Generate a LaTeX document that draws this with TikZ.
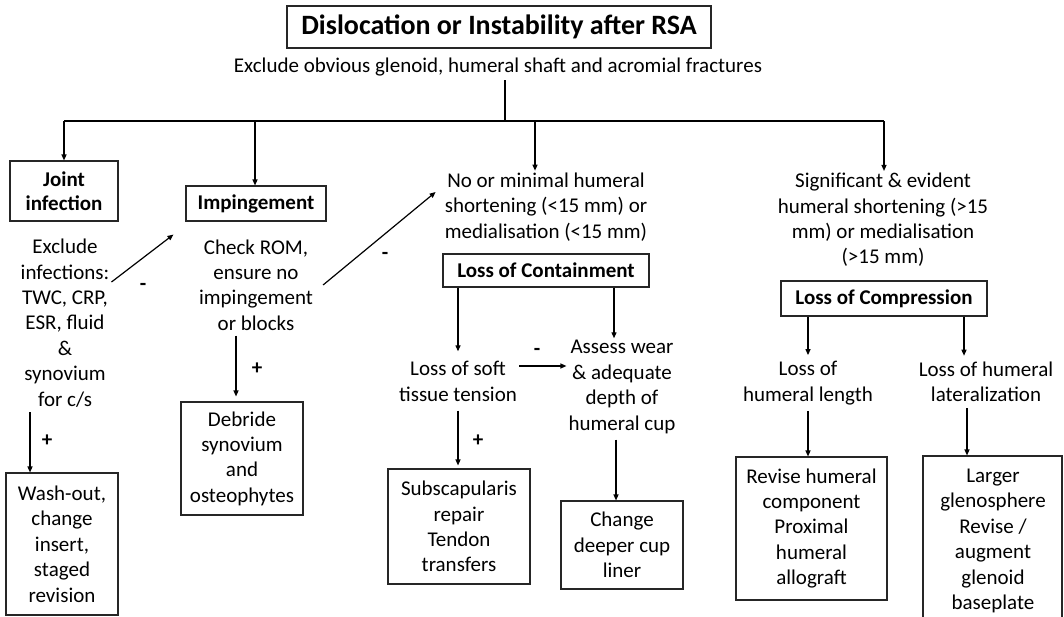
\documentclass[tikz,border=0pt]{standalone}
\usepackage{fontspec}
\setmainfont{Carlito}
\usetikzlibrary{arrows.meta}
\begin{document}
\begin{tikzpicture}[x=1pt,y=-1pt,
  every node/.style={inner sep=2pt},
  body/.style={align=center,font=\fontsize{21}{25.4}\selectfont},
  boxed/.style={draw=black!85,line width=1.1pt,align=center},
  lbl/.style={boxed,font=\fontsize{21}{24}\selectfont\bfseries},
  sign/.style={font=\fontsize{21}{21}\selectfont\bfseries},
  arr/.style={line width=1.2pt,-{Triangle[length=6pt,width=5pt]}},
  trunk/.style={line width=2.6pt},
]
\useasboundingbox (0,0) rectangle (1064,616);

% heading
\node[boxed,line width=1.3pt,font=\fontsize{28}{30}\selectfont\bfseries,
      minimum width=424pt,minimum height=42pt] (title) at (499,27)
  {Dislocation or Instability after RSA};
\node[font=\fontsize{21}{24}\selectfont] (sub) at (498,67)
  {Exclude obvious glenoid, humeral shaft and acromial fractures};

% distribution bar
\coordinate (hub) at (505,121);
\coordinate (b1) at (64,121);
\coordinate (b2) at (255,121);
\coordinate (b3) at (535,121);
\coordinate (b4) at (884,121);
\draw[trunk,shorten <=2pt] (sub.south -| hub) -- (hub);
\draw[trunk] (b1) -- (b4);

% column 1: joint infection
\node[lbl,minimum width=108pt,minimum height=60pt] (ji) at (64,191) {Joint\\infection};
\node[body] (exinf) at (65,323) {Exclude\\infections:\\TWC, CRP,\\ESR, fluid\\\&\\synovium\\for c/s};
\node[boxed,body,minimum width=112pt,minimum height=142pt] (wash) at (62,544)
  {Wash-out,\\change\\insert,\\staged\\revision};

% column 2: impingement
\node[lbl,minimum width=140pt,minimum height=35pt] (imp) at (256,203.5) {Impingement};
\node[body] (chk) at (256,285) {Check ROM,\\ensure no\\impingement\\or blocks};
\node[boxed,body,minimum width=122pt,minimum height=113pt] (deb) at (242,458.5)
  {Debride\\synovium\\and\\osteophytes};

% column 3: loss of containment
\node[body] (nomin) at (546,207) {No or minimal humeral\\shortening (<15 mm) or\\medialisation (<15 mm)};
\node[lbl,minimum width=206pt,minimum height=33pt] (loc) at (546,270.5) {Loss of Containment};
\node[body] (lsoft) at (458,381.5) {Loss of soft\\tissue tension};
\node[body] (assess) at (622,387) {Assess wear\\\& adequate\\depth of\\humeral cup};
\node[boxed,body,minimum width=142pt,minimum height=115pt] (subs) at (459,526.5)
  {Subscapularis\\repair\\Tendon\\transfers};
\node[boxed,body,minimum width=122pt,minimum height=88pt] (chg) at (622,545)
  {Change\\deeper cup\\liner};

% column 4: loss of compression
\node[body] (sig) at (883,220) {Significant \& evident\\humeral shortening (>15\\mm) or medialisation\\(>15 mm)};
\node[lbl,minimum width=206pt,minimum height=35pt] (lcomp) at (884,298.5) {Loss of Compression};
\node[body] (llen) at (808,383) {Loss of\\humeral length};
\node[body] (llat) at (986,382) {Loss of humeral\\lateralization};
\node[boxed,body,minimum width=151pt,minimum height=143pt] (rev) at (811.5,528.5)
  {Revise humeral\\component\\Proximal\\humeral\\allograft};
\node[boxed,minimum width=139pt,minimum height=180pt] (lrg) at (992.5,546) {};
\node[body] (lrgtext) at (993,541) {Larger\\glenosphere\\Revise /\\augment\\glenoid\\baseplate};

% drops from the bar
\draw[arr] (b1) -- (b1 |- ji.north);
\draw[arr] (b2) -- (b2 |- imp.north);
\draw[arr] (b3) -- (b3 |- nomin.north);
\draw[arr] (b4) -- (b4 |- sig.north);

% column 1 links
\draw[arr] ([yshift=41pt]exinf.east) -- ([shift={(-12pt,-13pt)}]imp.south west);
\node[sign] at (143,287) {-};
\draw[arr,shorten <=3pt] ([xshift=-35pt]exinf.south) -- ([xshift=-32pt]wash.north);
\node[sign] at (47,441) {+};

% column 2 links
\draw[arr] ([xshift=8pt]chk.east) -- ([shift={(-7pt,15pt)}]nomin.west);
\node[sign] at (385,256) {-};
\draw[arr,shorten <=3pt,shorten >=5pt] ([xshift=-20pt]chk.south) -- ([xshift=-6pt]deb.north);
\node[sign] at (257,369) {+};

% column 3 links
\draw[arr,shorten >=8pt] (loc.south -| lsoft) -- (lsoft.north);
\draw[arr] ([xshift=-8pt]loc.south -| assess) -- ([xshift=-8pt]assess.north);
\draw[arr] ([yshift=15.5pt]lsoft.east) -- ([yshift=15.5pt]lsoft.east -| assess.west);
\node[sign] at (537,352) {-};
\draw[arr,shorten <=7pt,shorten >=3pt] (lsoft.south) -- (lsoft.south |- subs.north);
\node[sign] at (478,441) {+};
\draw[arr,shorten <=4pt] ([xshift=-6pt]assess.south) -- ([xshift=-6pt]chg.north);

% column 4 links
\draw[arr,shorten >=4pt] (lcomp.south -| llen) -- (llen.north);
\draw[arr,shorten >=4pt] ([xshift=-22pt]lcomp.south -| llat) -- ([xshift=-22pt]llat.north);
\draw[arr,shorten <=4pt] (llen.south) -- (llen.south |- rev.north);
\draw[arr,shorten <=4pt] ([xshift=-19pt]llat.south) -- ([xshift=-19pt]llat.south |- lrg.north);
\end{tikzpicture}
\end{document}
